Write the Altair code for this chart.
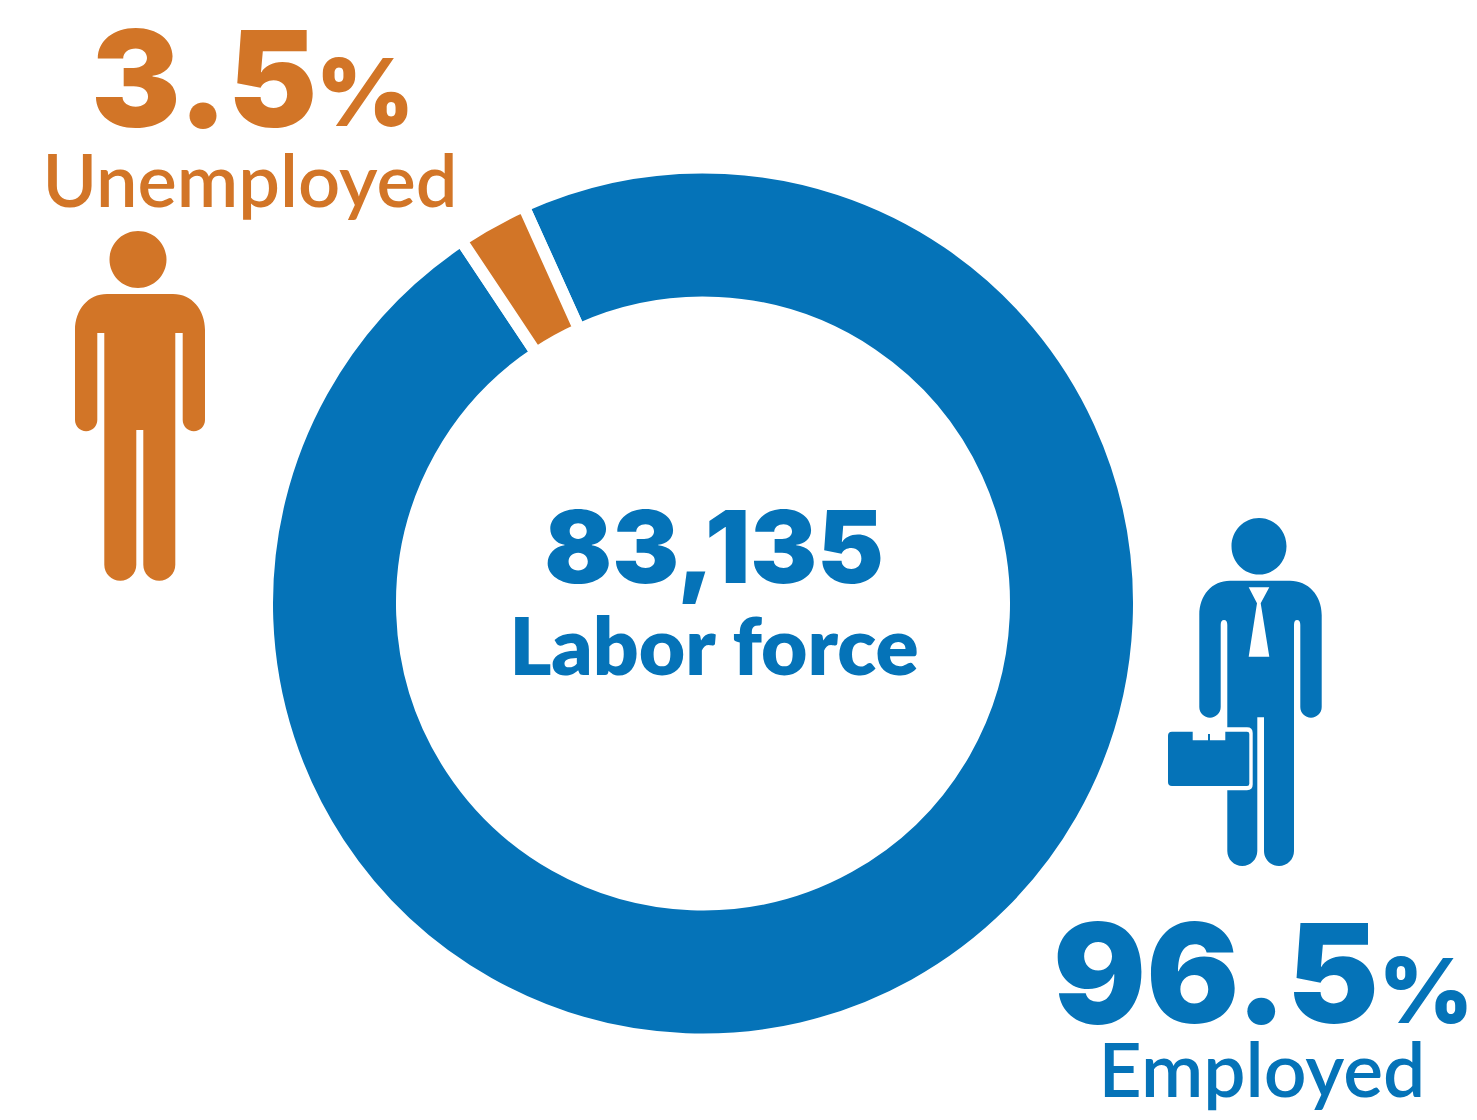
import math
import altair as alt
import pandas as pd

BLUE = "#0573B8"
ORANGE = "#D27527"

groups = ["Employed", "Unemployed"]
ring_shares = [97.4, 2.6]

person = ("M-35,-136 L33,-136 C52,-136 65,-120 65,-100 L65,-10 A11.15,11.15 0 0 1 42.7,-10 L42.7,-97 L35.3,-97 "
          "L35.3,134.7 A16,16 0 0 1 3.3,134.7 L3.3,0 L-3.7,0 L-3.7,134.7 A16,16 0 0 1 -35.7,134.7 L-35.7,-97 "
          "L-42.7,-97 L-42.7,-10 A11.15,11.15 0 0 1 -65,-10 L-65,-100 C-65,-120 -52,-136 -33,-136 Z "
          "M-30.5,-170.5 A28.5,28.5 0 1 1 26.5,-170.5 A28.5,28.5 0 1 1 -30.5,-170.5 Z")
suit = ("M-30,-119.3 L30,-119.3 C48,-119.3 61.7,-105 61.7,-85 L61.7,7 A10.7,10.7 0 0 1 40.3,7 L40.3,-75 "
        "Q40.3,-80 37,-80 Q34,-80 34,-75 L34,151 A15,15 0 0 1 4,151 L4,17.3 L-2.7,17.3 L-2.7,151 "
        "A15,15 0 0 1 -32.7,151 L-32.7,-75 Q-32.7,-80 -36,-80 Q-39.3,-80 -39.3,-75 L-39.3,7 "
        "A10.7,10.7 0 0 1 -60.7,7 L-60.7,-85 C-60.7,-105 -48,-119.3 -30,-119.3 Z "
        "M-28.5,-153.7 A27.5,28.3 0 1 1 26.5,-153.7 A27.5,28.3 0 1 1 -28.5,-153.7 Z")
tie_and_frame = ("M-11.3,-112.7 L9.3,-112.7 L0.7,-96.7 L9.3,-43.3 L-11.3,-43.3 L-3,-96.7 Z "
                 "M-40,27.3 L-13,27.3 Q-7.3,27.3 -7.3,33 L-7.3,84.6 Q-7.3,90.3 -13,90.3 L-40,90.3 Z")
case = ("M-88,31.7 L-13,31.7 Q-10.7,31.7 -10.7,34 L-10.7,83.7 Q-10.7,86 -13,86 L-88,86 "
        "Q-92,86 -92,82 L-92,35.7 Q-92,31.7 -88,31.7 Z")
notch = "M-67.3,31 L-34.7,31 L-34.7,40.3 L-50,40.3 L-50,34 L-52,34 L-52,40.3 L-67.3,40.3 Z"

ring_df = pd.DataFrame({"group": groups, "share": ring_shares, "rank": [0, 1]})
start = math.radians(-24.3)
ring = alt.Chart(ring_df).mark_arc(
    outerRadius=436, innerRadius=301, stroke="white", strokeWidth=12
).encode(
    theta=alt.Theta("share:Q", stack=True, scale=alt.Scale(domain=[0, 100], range=[start, start + 2 * math.pi])),
    order=alt.Order("rank:Q"),
    color=alt.Color("group:N", scale=alt.Scale(domain=groups, range=[BLUE, ORANGE]), legend=None),
    x=alt.value(695),
    y=alt.value(595.5),
)


def icon(path, colour, x, y):
    return alt.Chart(pd.DataFrame({"k": [0]})).mark_point(
        shape=path, size=4, filled=True, fill=colour, opacity=1, strokeWidth=0
    ).encode(x=alt.value(x), y=alt.value(y))


def label(text, colour, x, y, size, weight, font):
    return alt.Chart(pd.DataFrame({"label": [text]})).mark_text(
        align="center", baseline="alphabetic", color=colour, fontSize=size, fontWeight=weight, font=font
    ).encode(text="label:N", x=alt.value(x), y=alt.value(y))


layers = [
    ring,
    icon(person, ORANGE, 132, 422),
    icon(suit, BLUE, 1252, 692),
    icon(tie_and_frame, "white", 1252, 692),
    icon(case, BLUE, 1252, 692),
    icon(notch, "white", 1252, 692),
    label("3.5", ORANGE, 196, 119, 134, 900, "Inter"),
    label("%", ORANGE, 357, 118, 94, 900, "Inter"),
    label("Unemployed", ORANGE, 242, 199, 74, 600, "Lato"),
    label("83,135", BLUE, 706, 575, 100, 900, "Inter"),
    label("Labor force", BLUE, 706, 667, 80, 800, "Lato"),
    label("96.5", BLUE, 1208, 1015, 138, 900, "Inter"),
    label("%", BLUE, 1418, 1015, 90, 900, "Inter"),
    label("Employed", BLUE, 1254, 1089, 75, 600, "Lato"),
]

chart = alt.layer(*layers).properties(
    width=1461, height=1104, padding=0, autosize=alt.AutoSizeParams(type="none")
).configure_view(stroke=None)
chart.save("out.html", embed_options={"renderer": "svg", "actions": False})
